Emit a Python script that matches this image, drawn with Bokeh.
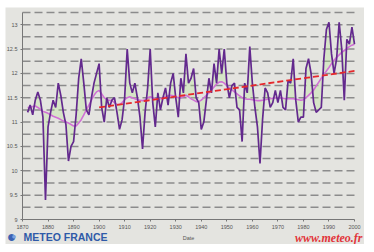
from bokeh.plotting import figure
from bokeh.models import ColumnDataSource, FixedTicker, Label, Range1d, Spacer, LinearAxis
from bokeh.layouts import row, column
from bokeh.embed import file_html
from bokeh.resources import INLINE

years = list(range(1872, 2001))
annual = [11.20, 11.35, 11.15, 11.45, 11.62, 11.45, 11.10, 9.40, 10.90, 11.20,
          11.45, 11.30, 11.80, 11.55, 11.20, 10.95, 10.20, 10.50, 10.60, 11.15,
          11.90, 12.30, 11.80, 11.25, 11.15, 11.50, 11.80, 12.00, 12.20, 11.30,
          11.00, 11.50, 11.30, 11.45, 11.50, 11.20, 10.85, 11.05, 11.50, 12.50,
          11.80, 11.60, 11.80, 11.50, 11.10, 10.45, 11.20, 11.70, 12.50, 11.40,
          10.90, 11.60, 11.25, 11.50, 11.70, 11.35, 11.80, 12.00, 11.50, 11.10,
          11.90, 11.60, 12.40, 11.80, 11.90, 12.10, 11.50, 11.40, 10.85, 11.00,
          11.45, 11.90, 11.60, 12.20, 11.80, 12.50, 12.00, 12.50, 11.80, 11.50,
          11.75, 11.80, 11.30, 11.25, 10.60, 11.80, 11.60, 12.55, 11.80, 11.30,
          10.90, 10.15, 11.05, 11.70, 11.60, 11.30, 11.40, 11.65, 11.40, 11.65,
          11.30, 11.25, 11.85, 11.80, 12.30, 11.45, 11.00, 11.10, 11.10, 12.10,
          12.30, 12.00, 11.40, 11.20, 11.25, 11.30, 12.30, 12.90, 13.05, 12.40,
          12.00, 12.30, 13.05, 12.50, 11.45, 12.70, 12.60, 12.95, 12.60]
smooth = [11.30, 11.30, 11.32, 11.33, 11.30, 11.26, 11.22, 11.20, 11.18, 11.15,
          11.12, 11.10, 11.08, 11.05, 11.02, 11.00, 10.98, 10.95, 10.92, 10.92,
          10.98, 11.05, 11.15, 11.25, 11.35, 11.45, 11.55, 11.62, 11.65, 11.58,
          11.50, 11.46, 11.45, 11.44, 11.40, 11.36, 11.36, 11.40, 11.46, 11.50,
          11.52, 11.50, 11.48, 11.46, 11.45, 11.44, 11.46, 11.50, 11.52, 11.50,
          11.48, 11.47, 11.48, 11.50, 11.52, 11.54, 11.55, 11.54, 11.52, 11.50,
          11.50, 11.52, 11.55, 11.52, 11.48, 11.45, 11.42, 11.42, 11.45, 11.50,
          11.55, 11.60, 11.66, 11.72, 11.78, 11.82, 11.83, 11.80, 11.75, 11.70,
          11.66, 11.62, 11.58, 11.54, 11.50, 11.48, 11.47, 11.47, 11.46, 11.45,
          11.44, 11.44, 11.45, 11.46, 11.47, 11.48, 11.49, 11.50, 11.50, 11.50,
          11.49, 11.48, 11.48, 11.48, 11.48, 11.47, 11.46, 11.45, 11.46, 11.50,
          11.55, 11.60, 11.66, 11.74, 11.82, 11.90, 11.98, 12.05, 12.12, 12.20,
          12.27, 12.33, 12.38, 12.43, 12.47, 12.51, 12.55, 12.58, 12.60]
trend_years = [1900, 2000]
trend_vals = [11.30, 12.05]

x_ticks = [1870, 1880, 1890, 1900, 1910, 1920, 1930, 1940, 1950, 1960, 1970, 1980, 1990, 2000]
y_ticks = [9, 9.5, 10, 10.5, 11, 11.5, 12, 12.5, 13]
y_tick_labels = ["9", "9.5", "10", "10.5", "11", "11.5", "12", "12.5", "13"]
grid_levels = [9.25, 9.5, 9.75, 10, 10.25, 10.5, 10.75, 11, 11.25, 11.5, 11.75,
               12, 12.25, 12.5, 12.75, 13, 13.25]
X_MIN, X_MAX = 1870, 2000
Y_MIN, Y_MAX = 9, 13.25

# plot geometry (pixels inside the 359x237 panel)
W, H = 359, 237
PAD_L, PAD_R, PAD_T, PAD_B = 17, 10, 5, 25
sx = (W - PAD_L - PAD_R) / (X_MAX - X_MIN)
sy = (H - PAD_T - PAD_B) / (Y_MAX - Y_MIN)
xr = Range1d(X_MIN - PAD_L / sx, X_MAX + PAD_R / sx)
yr = Range1d(Y_MIN - PAD_B / sy, Y_MAX + PAD_T / sy)

PANEL = "#e4e4e0"

p = figure(width=W, height=H, x_range=xr, y_range=yr,
           output_backend="svg", toolbar_location=None,
           x_axis_type=None, y_axis_type=None,
           min_border_left=0, min_border_right=0, min_border_top=0, min_border_bottom=0)
p.background_fill_color = PANEL
p.border_fill_color = PANEL
p.outline_line_color = None
p.grid.visible = False

# dashed horizontal grid, limited to the plotting area
p.segment(x0=[X_MIN] * len(grid_levels), x1=[X_MAX] * len(grid_levels),
          y0=grid_levels, y1=grid_levels, line_color="#8c8c8c", line_width=1.5,
          line_dash="8 4")

xaxis = LinearAxis(fixed_location=Y_MIN, bounds=(X_MIN, X_MAX), ticker=FixedTicker(ticks=x_ticks))
yaxis = LinearAxis(fixed_location=X_MIN, bounds=(Y_MIN, Y_MAX), ticker=FixedTicker(ticks=y_ticks))
yaxis.major_label_overrides = {t: s for t, s in zip(y_ticks, y_tick_labels)}
for ax in (xaxis, yaxis):
    ax.axis_line_color = "#777777"
    ax.axis_line_width = 1
    ax.major_tick_line_color = "#777777"
    ax.major_tick_out = 2
    ax.major_tick_in = 0
    ax.minor_tick_line_color = None
    ax.major_label_text_font = "Liberation Sans"
    ax.major_label_text_font_size = "5.5px"
    ax.major_label_text_color = "#555555"
    ax.major_label_standoff = 3
xaxis.axis_label = "Date"
xaxis.axis_label_text_font = "Liberation Sans"
xaxis.axis_label_text_font_size = "5.5px"
xaxis.axis_label_text_font_style = "normal"
xaxis.axis_label_text_color = "#555555"
xaxis.axis_label_standoff = 3
p.add_layout(xaxis, "below")
p.add_layout(yaxis, "left")

src = ColumnDataSource(dict(year=years, annual=annual, smooth=smooth))
p.varea(x="year", y1="annual", y2="smooth", source=src, fill_color="#b5e890", fill_alpha=0.3)
p.line(x="year", y="smooth", source=src, line_color="#d070d4", line_width=1.6)
p.line(x="year", y="annual", source=src, line_color="#63298e", line_width=1.7)
p.line(x=trend_years, y=trend_vals, line_color="#e5282c", line_width=1.8, line_dash="6 3")

# logos in the bottom band (data units of the full-panel frame)
y_logo = Y_MIN - 17 / sy
p.add_layout(Label(x=X_MIN - 11 / sx, y=y_logo, text="●",
                   text_font_size="16px", text_color="#3b63b3",
                   text_align="center", text_baseline="middle"))
p.add_layout(Label(x=X_MIN - 11 / sx, y=y_logo, text="●",
                   text_font_size="8px", text_color="#7fa0dc",
                   text_align="left", text_baseline="middle"))
p.add_layout(Label(x=X_MIN + 1 / sx, y=y_logo, text="METEO FRANCE",
                   text_font="Liberation Sans",
                   text_font_style="bold", text_font_size="10.5px", text_color="#2f5aa8",
                   text_baseline="middle"))
p.add_layout(Label(x=X_MAX + 8 / sx, y=y_logo - 1 / sy, text="www.meteo.fr",
                   text_font="Liberation Serif",
                   text_font_style="bold italic", text_font_size="12px", text_color="#e2343a",
                   text_align="right", text_baseline="middle"))

layout = column(Spacer(width=364, height=7), row(Spacer(width=5, height=H), p))
open("out.html", "w").write(file_html(layout, INLINE))
